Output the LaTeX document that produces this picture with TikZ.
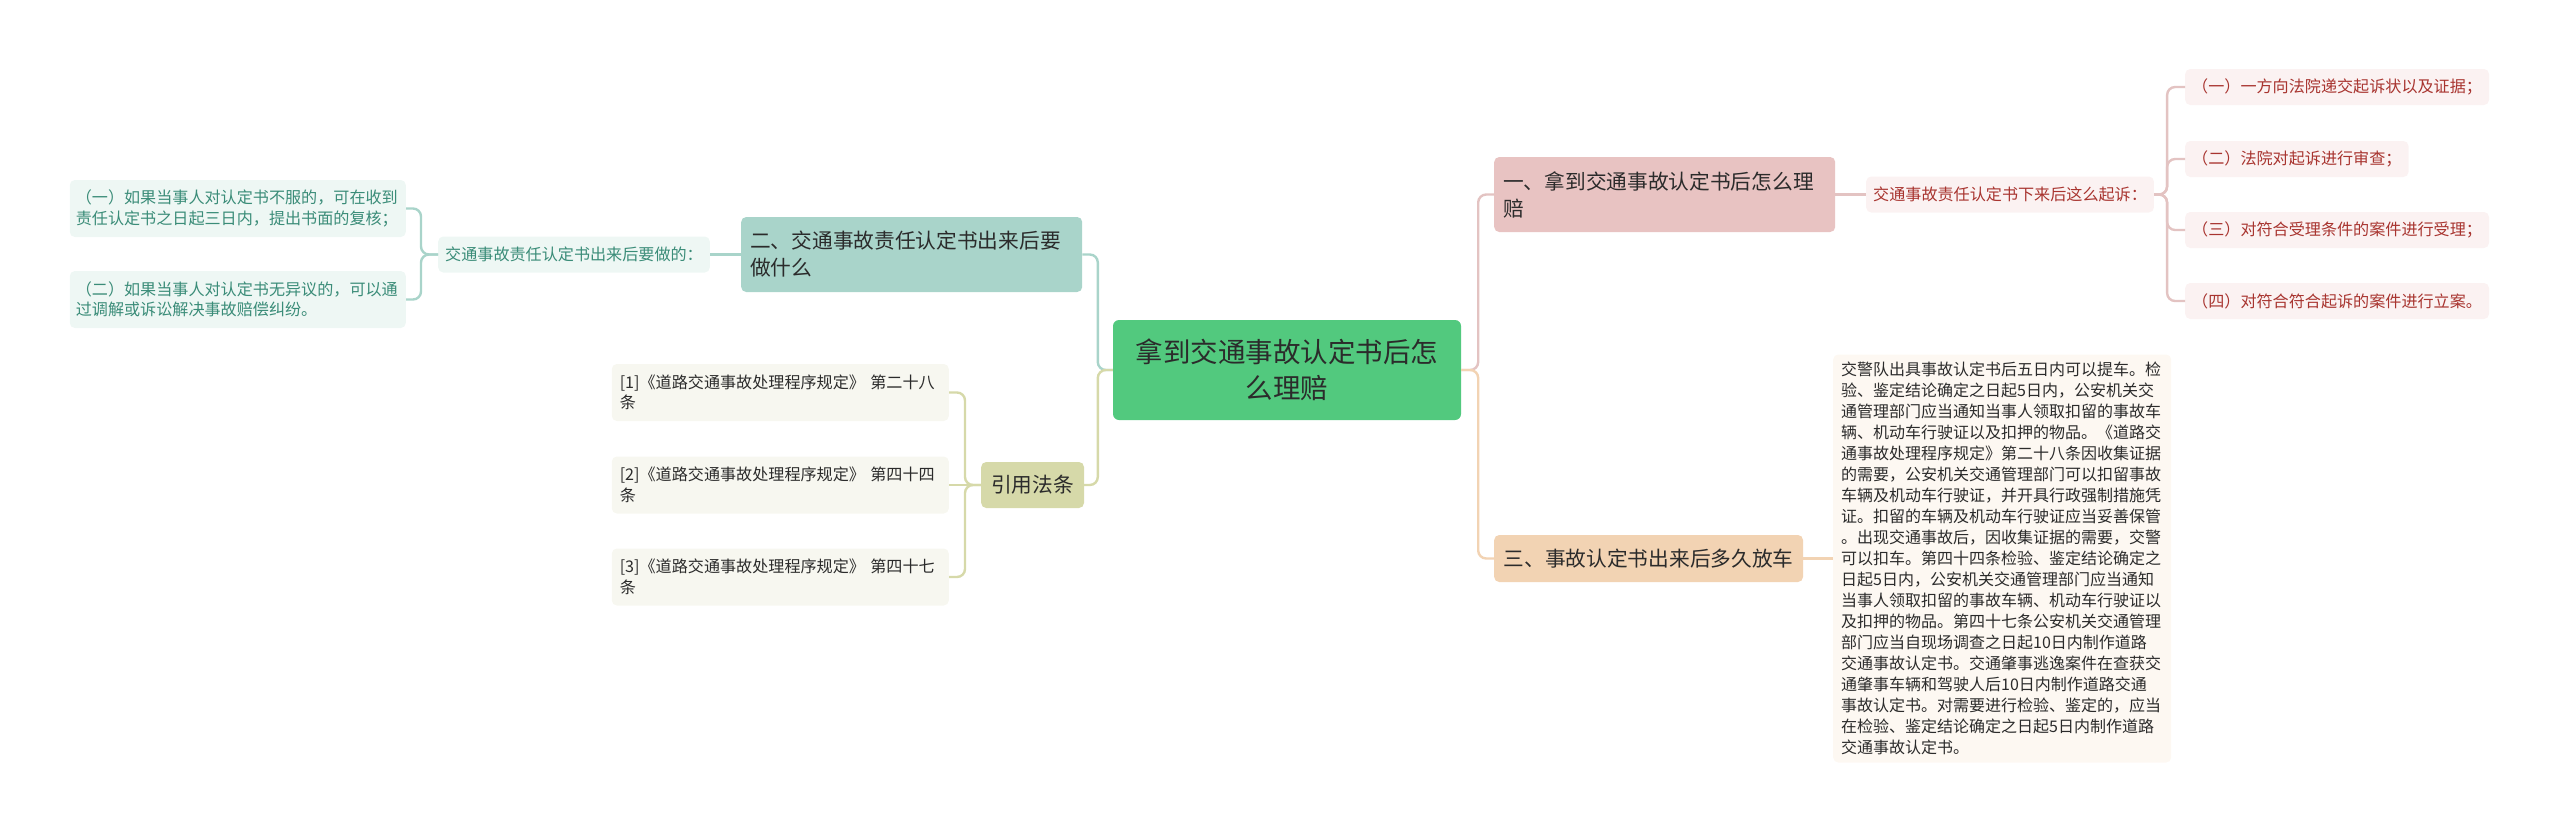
\documentclass[tikz,border=0pt]{standalone}
\usepackage{fontspec}
\setmainfont{Noto Sans CJK SC}
\definecolor{rootfill}{HTML}{52C97E}
\definecolor{onefill}{HTML}{E8C3C2}
\definecolor{twofill}{HTML}{A9D4CA}
\definecolor{threefill}{HTML}{F2D3B3}
\definecolor{lawfill}{HTML}{D6D9A9}
\definecolor{pinkpale}{HTML}{FBF2F2}
\definecolor{tealpale}{HTML}{EEF7F4}
\definecolor{olivepale}{HTML}{F7F7F0}
\definecolor{peachpale}{HTML}{FDF8F2}
\definecolor{pinkink}{HTML}{A8342F}
\definecolor{tealink}{HTML}{3A8C78}
\definecolor{ink}{HTML}{2B2B2B}
\definecolor{pinkln}{HTML}{E3C3C2}
\definecolor{tealln}{HTML}{A9D4CA}
\definecolor{oliveln}{HTML}{D6D9A9}
\definecolor{peachln}{HTML}{F2D3B3}
\begin{document}
\begin{tikzpicture}[x=1pt,y=-1pt,
  root/.style={fill=rootfill,rounded corners=6pt,inner sep=0pt,minimum width=348pt,minimum height=100pt,
    align=center,text=ink,font=\fontsize{27.5}{36}\selectfont},
  topic/.style={rounded corners=5pt,inner xsep=9pt,inner ysep=0pt,align=left,anchor=west,text=ink,
    font=\fontsize{20.7}{27}\selectfont},
  leaf/.style={rounded corners=5pt,inner xsep=7pt,inner ysep=0pt,minimum height=36pt,align=left,
    font=\fontsize{16.1}{20.5}\selectfont},
  pinkleaf/.style={leaf,fill=pinkpale,text=pinkink,anchor=west},
  tealleaf/.style={leaf,fill=tealpale,text=tealink,anchor=east},
  lawleaf/.style={leaf,fill=olivepale,text=ink,anchor=east,text width=321pt,inner xsep=8pt,minimum height=57pt},
  conn/.style={line width=2.4pt,rounded corners=8pt}]
\useasboundingbox (0,0) rectangle (2560,833);

\node[root] (root) at (1287,370) {拿到交通事故认定书后怎\\么理赔};

\node[topic,fill=onefill,text width=323pt,minimum height=75pt] (one) at (1494,194.5) {一、拿到交通事故认定书后怎么理\\赔};
\node[pinkleaf] (psub) at (1866,194.5) {交通事故责任认定书下来后这么起诉：};
\node[pinkleaf] (p1) at (2185,87) {（一）一方向法院递交起诉状以及证据；};
\node[pinkleaf] (p2) at (2185,159) {（二）法院对起诉进行审查；};
\node[pinkleaf] (p3) at (2185,230) {（三）对符合受理条件的案件进行受理；};
\node[pinkleaf] (p4) at (2185,301) {（四）对符合符合起诉的案件进行立案。};

\node[topic,fill=threefill,inner xsep=9.5pt,minimum height=47pt] (three) at (1494,558.5) {三、事故认定书出来后多久放车};
\node[leaf,fill=peachpale,text=ink,anchor=west,text width=322pt,inner xsep=8pt,minimum height=408pt,
  font=\fontsize{16}{21}\selectfont] (long) at (1833,558.5) {交警队出具事故认定书后五日内可以提车。检\\
验、鉴定结论确定之日起5日内，公安机关交\\
通管理部门应当通知当事人领取扣留的事故车\\
辆、机动车行驶证以及扣押的物品。《道路交\\
通事故处理程序规定》第二十八条因收集证据\\
的需要，公安机关交通管理部门可以扣留事故\\
车辆及机动车行驶证，并开具行政强制措施凭\\
证。扣留的车辆及机动车行驶证应当妥善保管\\
。出现交通事故后，因收集证据的需要，交警\\
可以扣车。第四十四条检验、鉴定结论确定之\\
日起5日内，公安机关交通管理部门应当通知\\
当事人领取扣留的事故车辆、机动车行驶证以\\
及扣押的物品。第四十七条公安机关交通管理\\
部门应当自现场调查之日起10日内制作道路\\
交通事故认定书。交通肇事逃逸案件在查获交\\
通肇事车辆和驾驶人后10日内制作道路交通\\
事故认定书。对需要进行检验、鉴定的，应当\\
在检验、鉴定结论确定之日起5日内制作道路\\
交通事故认定书。};

\node[topic,fill=twofill,text width=323pt,minimum height=75pt] (two) at (741,254.5) {二、交通事故责任认定书出来后要\\做什么};
\node[tealleaf] (tsub) at (710,254.5) {交通事故责任认定书出来后要做的：};
\node[tealleaf,text width=324pt,inner xsep=6pt,minimum height=57pt] (t1) at (406,208.5) {（一）如果当事人对认定书不服的，可在收到\\责任认定书之日起三日内，提出书面的复核；};
\node[tealleaf,text width=324pt,inner xsep=6pt,minimum height=57pt] (t2) at (406,299.5) {（二）如果当事人对认定书无异议的，可以通\\过调解或诉讼解决事故赔偿纠纷。};

\node[topic,fill=lawfill,inner xsep=10pt,minimum height=46pt] (law) at (981,485) {引用法条};
\node[lawleaf] (c1) at (949,392.5) {[1]《道路交通事故处理程序规定》 第二十八\\条};
\node[lawleaf] (c2) at (949,485) {[2]《道路交通事故处理程序规定》 第四十四\\条};
\node[lawleaf] (c3) at (949,577) {[3]《道路交通事故处理程序规定》 第四十七\\条};

\draw[conn,pinkln] (root.east) -- ++(17,0) |- (one.west);
\draw[conn,peachln] (root.east) -- ++(17,0) |- (three.west);
\draw[conn,tealln] (root.west) -- ++(-15,0) |- (two.east);
\draw[conn,oliveln] (root.west) -- ++(-15,0) |- (law.east);

\draw[conn,pinkln] (one.east) -- (psub.west);
\draw[conn,pinkln] (psub.east) -- ++(13,0) |- (p1.west);
\draw[conn,pinkln] (psub.east) -- ++(13,0) |- (p2.west);
\draw[conn,pinkln] (psub.east) -- ++(13,0) |- (p3.west);
\draw[conn,pinkln] (psub.east) -- ++(13,0) |- (p4.west);

\draw[conn,peachln] (three.east) -- (long.west);

\draw[conn,tealln] (two.west) -- (tsub.east);
\draw[conn,tealln] (tsub.west) -- ++(-17,0) |- (t1.east);
\draw[conn,tealln] (tsub.west) -- ++(-17,0) |- (t2.east);

\draw[conn,oliveln] (law.west) -- ++(-16,0) |- (c1.east);
\draw[conn,oliveln] (law.west) -- (c2.east);
\draw[conn,oliveln] (law.west) -- ++(-16,0) |- (c3.east);
\end{tikzpicture}
\end{document}
